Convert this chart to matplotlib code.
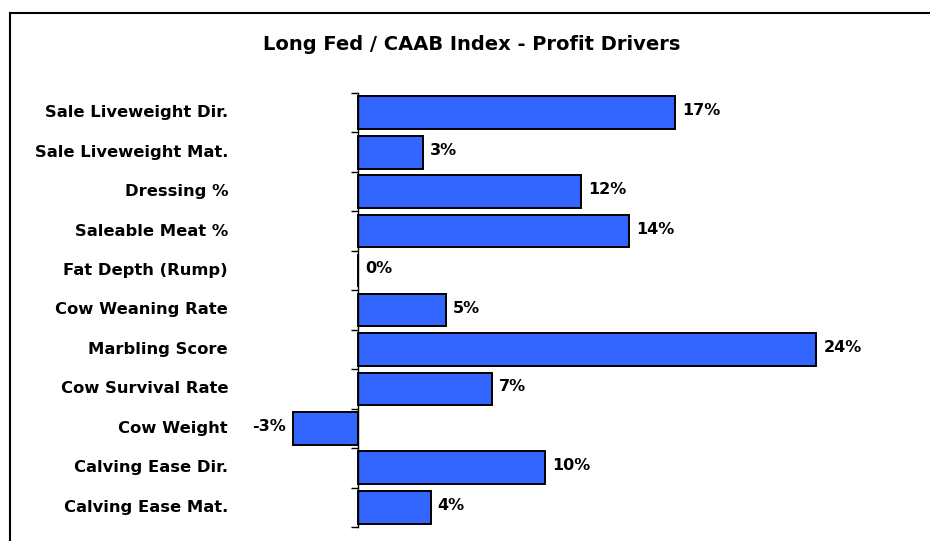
import matplotlib.pyplot as plt
from matplotlib.patches import Rectangle
import matplotlib.transforms as mtransforms

plt.rcParams['font.family'] = ['DejaVu Sans']

# profit driver values (%)
drivers = ["Sale Liveweight Dir.", "Sale Liveweight Mat.", "Dressing %",
           "Saleable Meat %", "Fat Depth (Rump)", "Cow Weaning Rate",
           "Marbling Score", "Cow Survival Rate", "Cow Weight",
           "Calving Ease Dir.", "Calving Ease Mat."]
values = [16.6, 3.4, 11.7, 14.2, 0.0, 4.6, 24.0, 7.0, -3.4, 9.8, 3.8]
value_labels = ["17%", "3%", "12%", "14%", "0%", "5%", "24%", "7%", "-3%", "10%", "4%"]

W, H = 930, 541
fig = plt.figure(figsize=(W / 100, H / 100), dpi=100)

# outer frame (only left and top edges visible)
fig.patches.append(Rectangle((10 / W, -0.1), 1.2, 1 - 13 / H + 0.1,
                             transform=fig.transFigure, fill=False,
                             edgecolor="black", linewidth=1.5))

ax_left, ax_right = 250, 900
ax = fig.add_axes([ax_left / W, 1 - 527 / H, (ax_right - ax_left) / W, (527 - 93) / H])
ax.set_facecolor("none")

pos = list(range(len(drivers)))
ax.barh(pos, values, height=0.83, color="#3366FF", edgecolor="black", linewidth=1.4)

scale = 19.1  # pixels per percent
x_min = -(358 - ax_left) / scale
x_max = (ax_right - 358) / scale
ax.set_xlim(x_min, x_max)
ax.set_ylim(len(drivers) - 0.5, -0.5)

for s in ["top", "right", "bottom"]:
    ax.spines[s].set_visible(False)
ax.spines["left"].set_position(("data", 0))
ax.spines["left"].set_linewidth(1.0)
ax.set_xticks([])
ax.set_yticks([])
ax.set_yticks([p - 0.5 for p in pos] + [len(drivers) - 0.5], minor=True)
ax.tick_params(axis="y", which="minor", length=5, width=1.0, direction="out")

# category labels
trans = mtransforms.blended_transform_factory(fig.transFigure, ax.transData)
for p, name in zip(pos, drivers):
    ax.text(228 / W, p, name, transform=trans, ha="right", va="center",
            fontsize=11.8, fontweight="bold")

# value labels
off = 7 / scale
for p, v, lab in zip(pos, values, value_labels):
    if v < 0:
        ax.text(v - off, p - 0.05, lab, ha="right", va="center", fontsize=11.5, fontweight="bold")
    else:
        ax.text(v + off, p - 0.05, lab, ha="left", va="center", fontsize=11.5, fontweight="bold")

fig.text(472 / W, 1 - 45 / H, "Long Fed / CAAB Index - Profit Drivers",
         ha="center", va="center", fontsize=14, fontweight="bold")

fig.savefig("out.png", dpi=100)
